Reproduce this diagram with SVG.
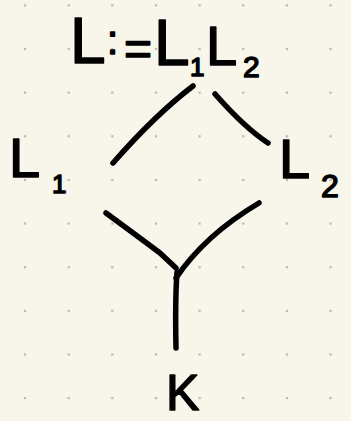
<svg xmlns="http://www.w3.org/2000/svg" width="351" height="421" viewBox="0 0 351 421">
  <style>
    .lbl { font-family: "Liberation Sans", "DejaVu Sans", sans-serif; fill: #000; stroke: #000; stroke-width: 1.5; stroke-linejoin: round; }
    .edge { fill: none; stroke: #000; stroke-width: 5.5; stroke-linecap: round; stroke-linejoin: round; }
  </style>
  <defs>
    <pattern id="dots" patternUnits="userSpaceOnUse" x="3.2" y="-16.5" width="43.65" height="43.65">
      <circle cx="21.8" cy="21.8" r="1.3" fill="#b8b8b0"/>
    </pattern>
  </defs>
  <rect width="351" height="421" fill="#f8f6ea"/>
  <rect width="351" height="421" fill="url(#dots)"/>

  <g id="node-L">
    <text class="lbl"><tspan x="70" y="63" font-size="64">L</tspan><tspan x="107" y="54" font-size="40">:</tspan><tspan x="124" y="65" font-size="48">=</tspan><tspan x="154" y="65" font-size="64">L</tspan><tspan x="190" y="76" font-size="26">1</tspan><tspan x="206" y="65" font-size="56">L</tspan><tspan x="243" y="77" font-size="30">2</tspan></text>
  </g>

  <g id="node-L1">
    <text class="lbl"><tspan x="9" y="177" font-size="56">L</tspan><tspan x="52" y="193" font-size="26">1</tspan></text>
  </g>

  <g id="node-L2">
    <text class="lbl"><tspan x="279" y="178" font-size="56">L</tspan><tspan x="321" y="197" font-size="32">2</tspan></text>
  </g>

  <g id="node-K">
    <text class="lbl" x="166" y="410" font-size="50">K</text>
  </g>

  <g id="connectors">
    <path class="edge" d="M193,86 Q155,115 113,163"/>
    <path class="edge" d="M215,94 Q245,128 268,143"/>
    <path class="edge" d="M106,213 Q140,238 160,253 L176,268"/>
    <path class="edge" d="M259,203 Q205,235 176,278"/>
    <path class="edge" d="M177,272 Q175,300 176,348"/>
  </g>
</svg>
